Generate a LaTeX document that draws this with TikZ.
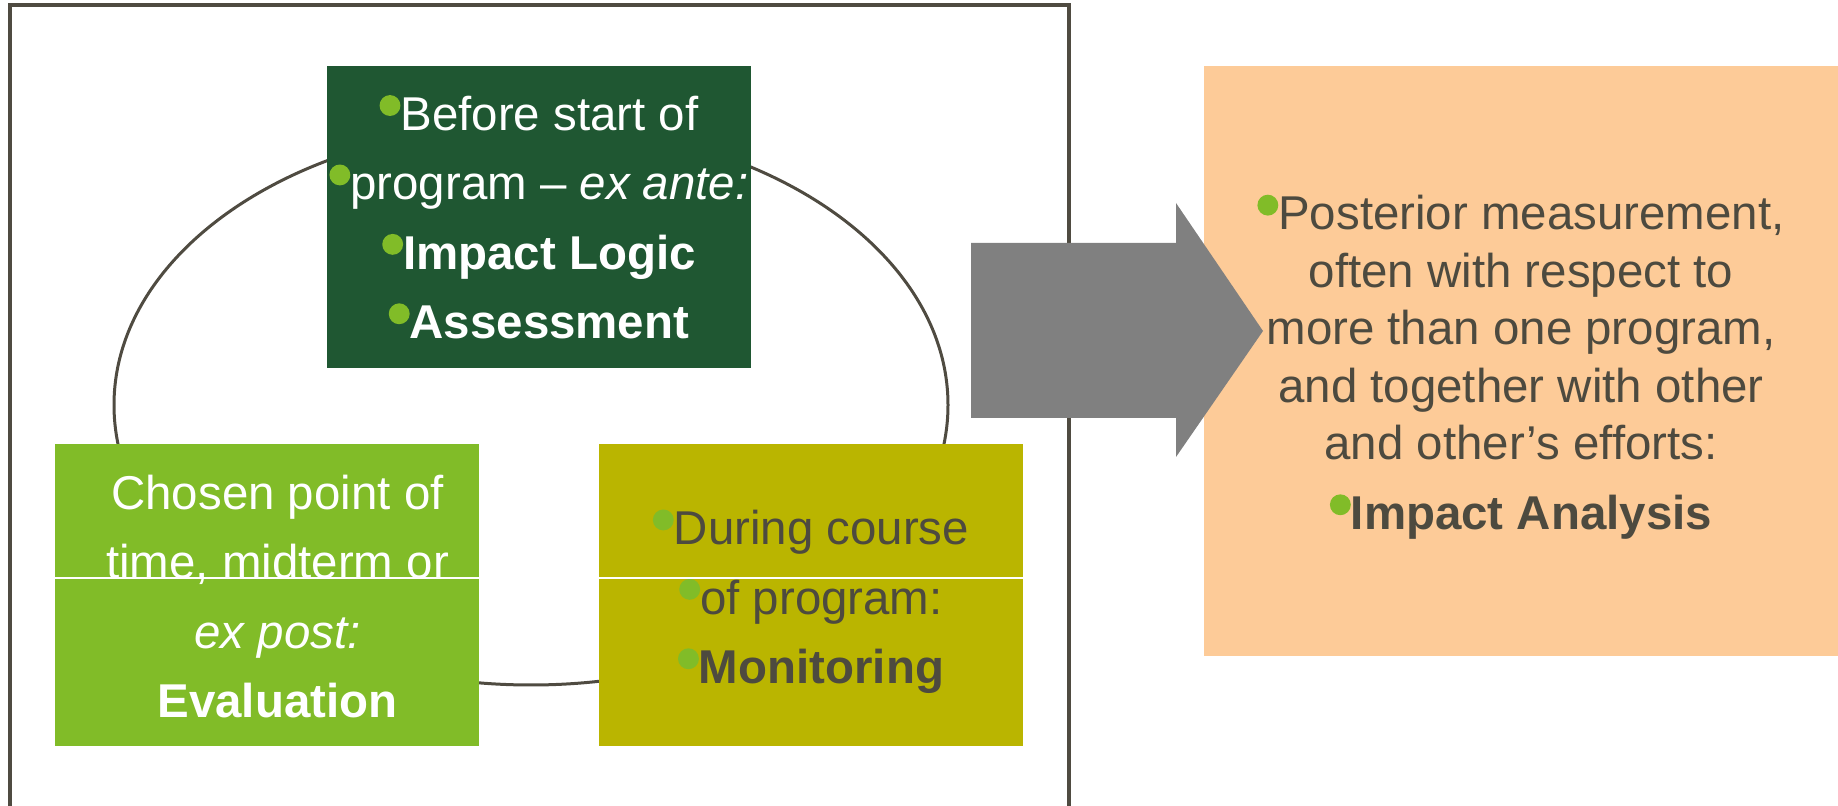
\documentclass[tikz,border=0pt]{standalone}
\usepackage{fontspec}
\setmainfont{Liberation Sans}
\usepackage{tikz}
\usepackage{xcolor}

\definecolor{frameGray}{RGB}{79,75,65}
\definecolor{textGray}{RGB}{77,74,63}
\definecolor{darkGreen}{RGB}{31,87,50}
\definecolor{lightGreen}{RGB}{129,188,40}
\definecolor{olive}{RGB}{186,181,0}
\definecolor{peach}{RGB}{253,203,152}
\definecolor{arrowGray}{RGB}{128,128,128}

\newcommand{\bul}{\tikz[baseline=-0.52em]\fill[lightGreen] (0,0) circle (0.22em);}

\begin{document}
\begin{tikzpicture}[
  box/.style={minimum width=8.48cm,minimum height=6.04cm,inner sep=0pt,align=center,
    font=\fontsize{27}{39.5}\selectfont},
  txt/.style={inner sep=0pt,align=center,font=\fontsize{27}{39.5}\selectfont}]
\useasboundingbox (0,0) rectangle (36.76,16.1);

% frame round the cycle, open at the bottom
\draw[frameGray,line width=0.08cm] (0.19,-0.5) |- (21.37,15.99) -- (21.37,-0.5);
\draw[frameGray,line width=0.06cm] (10.62,8.0) ellipse (8.34cm and 5.6cm);

\node[box,fill=darkGreen,text=white] (before) at (10.78,11.76)
  {\bul Before start of\\ \bul program -- \textit{ex ante:}\\ \bul\textbf{Impact Logic}\\ \bul\textbf{Assessment}};
\node[box,fill=lightGreen] (chosen) at (5.33,4.19) {};
\node[txt,text=white] (evaltxt) at (5.55,4.17)
  {Chosen point of\\ time, midterm or\\ \textit{ex post:}\\ \textbf{Evaluation}};
\node[box,fill=olive] (during) at (16.22,4.19) {};
\node[txt,text=textGray] (montxt) at (16.22,4.07)
  {\bul During course\\ \bul of program:\\ \bul\textbf{Monitoring}};
\draw[white,line width=0.6pt] ([yshift=0.35cm]chosen.west) -- ([yshift=0.35cm]chosen.east);
\draw[white,line width=0.6pt] ([yshift=0.35cm]during.west) -- ([yshift=0.35cm]during.east);

\node[box,fill=peach,minimum width=12.68cm,minimum height=11.8cm] (impact) at (30.42,8.88) {};
\node[txt,text=textGray,font=\fontsize{27}{32.7}\selectfont] (impacttxt) at (30.42,8.76)
  {\bul Posterior measurement,\\ often with respect to\\ more than one program,\\
   and together with other\\ and other’s efforts:\\[7pt] \bul\textbf{Impact Analysis}};

% block arrow from the cycle to the analysis
\fill[arrowGray] (19.42,11.24) -- (23.52,11.24) -- (23.52,12.04) -- (25.26,9.48)
  -- (23.52,6.96) -- (23.52,7.74) -- (19.42,7.74) -- cycle;
\end{tikzpicture}
\end{document}
